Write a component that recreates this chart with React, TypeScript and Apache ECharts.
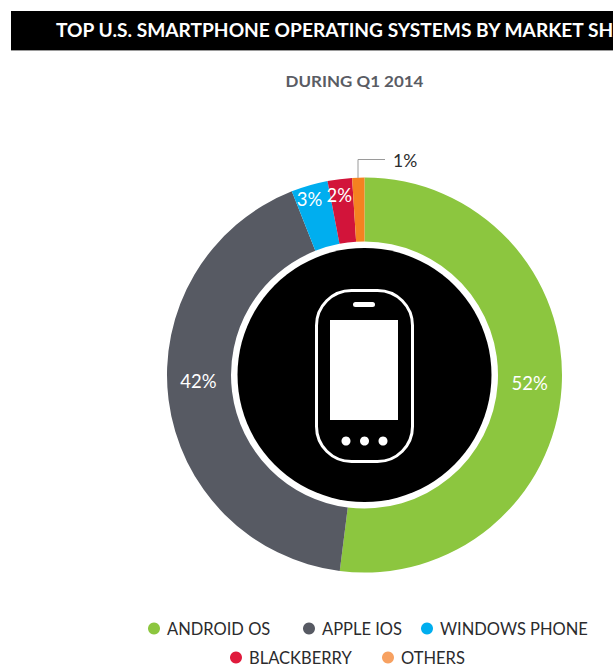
import React, { useEffect, useRef } from "react";
import * as echarts from "echarts";

const TITLE = "TOP U.S. SMARTPHONE OPERATING SYSTEMS BY MARKET SHARE";
const SUBTITLE = "DURING Q1 2014";
const categories = ["ANDROID OS", "APPLE IOS", "WINDOWS PHONE", "BLACKBERRY", "OTHERS"];
const shares = [52, 42, 3, 2, 1];
const sliceColors = ["#8cc63f", "#575a63", "#00aeef", "#d2143a", "#f58220"];
const legendColors = ["#8cc63f", "#575a63", "#00aeef", "#e01a3c", "#f7a161"];
const legendLeft = [148, 303, 421, 230, 382];
const legendTop = [620, 620, 620, 649, 649];
const labelOffsets = [[-3, -3], [1, -15], [-8, -14], [-4, -13], [0, 0]];

const FONT = "Lato";
const CX = 364.5;
const CY = 375;

export default function App() {
  const ref = useRef<HTMLDivElement>(null);
  useEffect(() => {
    document.body.style.margin = "0";
    const chart = echarts.init(ref.current!, undefined, { renderer: "svg" });
    chart.setOption({
      animation: false,
      backgroundColor: "#ffffff",
      legend: categories.map((name, i) => ({
        data: [{ name, itemStyle: { color: legendColors[i] } }],
        left: legendLeft[i],
        top: legendTop[i],
        orient: "horizontal",
        icon: "circle",
        itemWidth: 12,
        itemHeight: 12,
        itemGap: 0,
        padding: 0,
        selectedMode: false,
        textStyle: { fontFamily: FONT, fontSize: 16.5, color: "#2b2b2d", padding: [0, 0, 0, 2] },
      })),
      series: [
        {
          type: "pie",
          center: [CX, CY],
          radius: [133.5, 197.5],
          startAngle: 90,
          clockwise: true,
          silent: true,
          z: 2,
          label: {
            show: true,
            position: "inside",
            fontFamily: FONT,
            fontSize: 18.5,
            color: "#ffffff",
            formatter: "{c}%",
          },
          labelLine: { show: false },
          data: categories.map((name, i) => ({
            name,
            value: shares[i],
            itemStyle: { color: sliceColors[i] },
            label:
              i === 4
                ? { show: false }
                : { offset: labelOffsets[i] },
          })),
        },
      ],
      graphic: [
        // title band
        { type: "rect", shape: { x: 11, y: 11, width: 602, height: 39 }, style: { fill: "#000000" } },
        { type: "rect", shape: { x: 11, y: 50, width: 602, height: 1 }, style: { fill: "#9a9a9a" } },
        {
          type: "text",
          x: 56,
          y: 30,
          scaleX: 1.036,
          style: {
            text: TITLE,
            fill: "#ffffff",
            font: `700 18.5px ${FONT}`,
            textVerticalAlign: "middle",
          },
        },
        {
          type: "text",
          x: 354.5,
          y: 81.5,
          scaleX: 1.06,
          style: {
            text: SUBTITLE,
            fill: "#5a5c64",
            font: `700 16px ${FONT}`,
            textAlign: "center",
            textVerticalAlign: "middle",
          },
        },
        // central disc
        { type: "circle", shape: { cx: CX, cy: CY, r: 127 }, style: { fill: "#000000" }, z: 3 },
        // handset icon
        {
          type: "rect",
          shape: { x: 316.5, y: 290.5, width: 96, height: 171, r: 35 },
          style: { fill: "none", stroke: "#ffffff", lineWidth: 3 },
          z: 4,
        },
        { type: "rect", shape: { x: 330, y: 320, width: 68, height: 100 }, style: { fill: "#ffffff" }, z: 4 },
        { type: "rect", shape: { x: 353, y: 302, width: 22, height: 5, r: 2.5 }, style: { fill: "#ffffff" }, z: 4 },
        { type: "circle", shape: { cx: 346, cy: 441, r: 4.5 }, style: { fill: "#ffffff" }, z: 4 },
        { type: "circle", shape: { cx: 364.5, cy: 441, r: 4.5 }, style: { fill: "#ffffff" }, z: 4 },
        { type: "circle", shape: { cx: 383, cy: 441, r: 4.5 }, style: { fill: "#ffffff" }, z: 4 },
        // leader for the smallest slice
        {
          type: "polyline",
          shape: { points: [[358, 178], [358, 159.5], [385, 159.5]] },
          style: { fill: "none", stroke: "#9a9a9a", lineWidth: 1 },
          z: 4,
        },
        {
          type: "text",
          x: 393,
          y: 160,
          style: {
            text: `${shares[4]}%`,
            fill: "#2b2b2d",
            font: `400 17.5px ${FONT}`,
            textVerticalAlign: "middle",
          },
          z: 4,
        },
      ],
    });
    return () => chart.dispose();
  }, []);
  return <div ref={ref} style={{ width: 613, height: 666 }} />;
}
